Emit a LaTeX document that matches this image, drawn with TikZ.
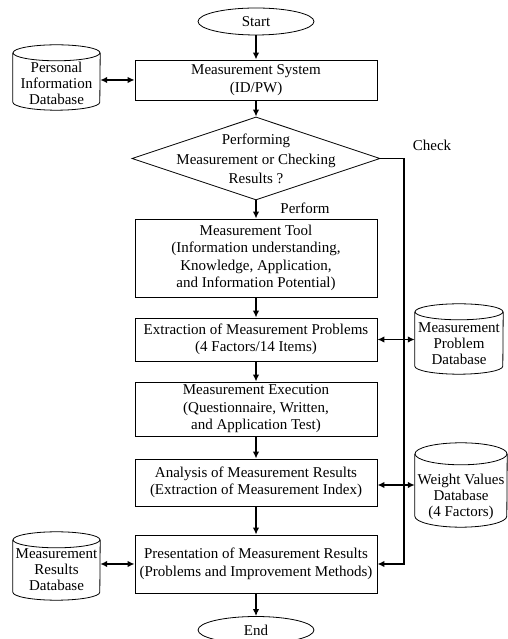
\documentclass[tikz,border=0pt]{standalone}
\usepackage{fontspec}
\setmainfont{Liberation Serif}
\usetikzlibrary{shapes.geometric,arrows.meta}
\tikzset{
  x=1pt,y=1pt,
  every node/.style={font=\fontsize{15}{17.5}\selectfont},
  shapeline/.style={line width=0.8pt,black},
  procbox/.style={shapeline,draw,rectangle,align=center,inner sep=0pt,minimum width=242},
  term/.style={shapeline,draw,ellipse,inner sep=0pt,minimum width=116,minimum height=27},
  decision/.style={shapeline,draw,diamond,inner sep=0pt,minimum width=248,minimum height=83},
  plain/.style={align=center,inner sep=0pt},
  dbnode/.style={inner sep=0pt},
  dbtxt/.style={align=center,inner sep=0pt,font=\fontsize{15}{16}\selectfont},
  conn/.style={line width=1.6pt,-{Latex[length=7pt,width=6.5pt]}},
  dconn/.style={line width=1.6pt,{Latex[length=7pt,width=6.5pt]}-{Latex[length=7pt,width=6.5pt]}},
}
% name, x, y, w, h, text shift, text, cap radius
\newcommand{\dbcyl}[8]{%
  \node[dbnode,minimum width=#4,minimum height=#5] (#1) at (#2,#3) {};
  \draw[shapeline] ([yshift=-#8]#1.north west) -- ([yshift=#8]#1.south west)
     arc[start angle=180,end angle=360,x radius=#4/2,y radius=#8]
     -- ([yshift=-#8]#1.north east);
  \draw[shapeline] ([yshift=-#8]#1.north) ellipse[x radius=#4/2,y radius=#8];
  \node[dbtxt] (#1-t) at ([yshift=#6]#1.center) {#7};
}
\begin{document}
\begin{tikzpicture}
\useasboundingbox (0,0) rectangle (507,639);
% terminals
\node[term] (start) at (256,617.5) {Start};
\node[term] (end) at (256,9) {End};
% process boxes
\node[procbox,minimum height=40] (ms) at (256,559) {Measurement System\\(ID/PW)};
\node[decision] (dec) at (256,480.5) {};
\node[plain,font=\fontsize{15}{19.5}\selectfont] (dect) at (256,480) {Performing\\Measurement or Checking\\Results ?};
\node[procbox,minimum height=78] (tool) at (256,381) {Measurement Tool\\(Information understanding,\\Knowledge, Application,\\and Information Potential)};
\node[procbox,minimum height=43] (extr) at (256,299.5) {Extraction of Measurement Problems\\(4 Factors/14 Items)};
\node[procbox,minimum height=54] (exec) at (256,230) {Measurement Execution\\(Questionnaire, Written,\\and Application Test)};
\node[procbox,minimum height=47] (anal) at (256,156.5) {Analysis of Measurement Results\\(Extraction of Measurement Index)};
\node[procbox,minimum height=58] (pres) at (256,75) {Presentation of Measurement Results\\(Problems and Improvement Methods)};
% databases
\dbcyl{pidb}{56.5}{561.5}{87}{65}{-6}{Personal\\Information\\Database}{8}
\dbcyl{mpdb}{459}{300}{88}{70}{-5}{Measurement\\Problem\\Database}{8}
\dbcyl{wvdb}{461}{154}{92}{84}{-12}{Weight Values\\Database\\(4 Factors)}{11}
\dbcyl{mrdb}{56.5}{73}{87}{68}{-4}{Measurement\\Results\\Database}{8}
% labels
\node[plain] (chk) at (432,494) {Check};
\node[plain] (perf) at (305,431) {Perform};
% flow
\draw[conn] (start) -- (ms);
\draw[conn] (ms) -- (dec);
\draw[conn] (dec) -- (tool);
\draw[conn] (tool) -- (extr);
\draw[conn] (extr) -- (exec);
\draw[conn] (exec) -- (anal);
\draw[conn] (anal) -- (pres);
\draw[conn] (pres) -- (end);
% check branch
\coordinate (rt) at (404,75);
\draw[conn] (dec.east) -| (rt) -- (pres.east);
% database links
\draw[dconn] (pidb.east |- ms.west) -- (ms.west);
\draw[dconn] (extr.east) -- (mpdb.west |- extr.east);
\draw[dconn] (anal.east |- wvdb.west) -- (wvdb.west);
\draw[dconn] (mrdb.east |- pres.west) -- (pres.west);
\end{tikzpicture}
\end{document}
